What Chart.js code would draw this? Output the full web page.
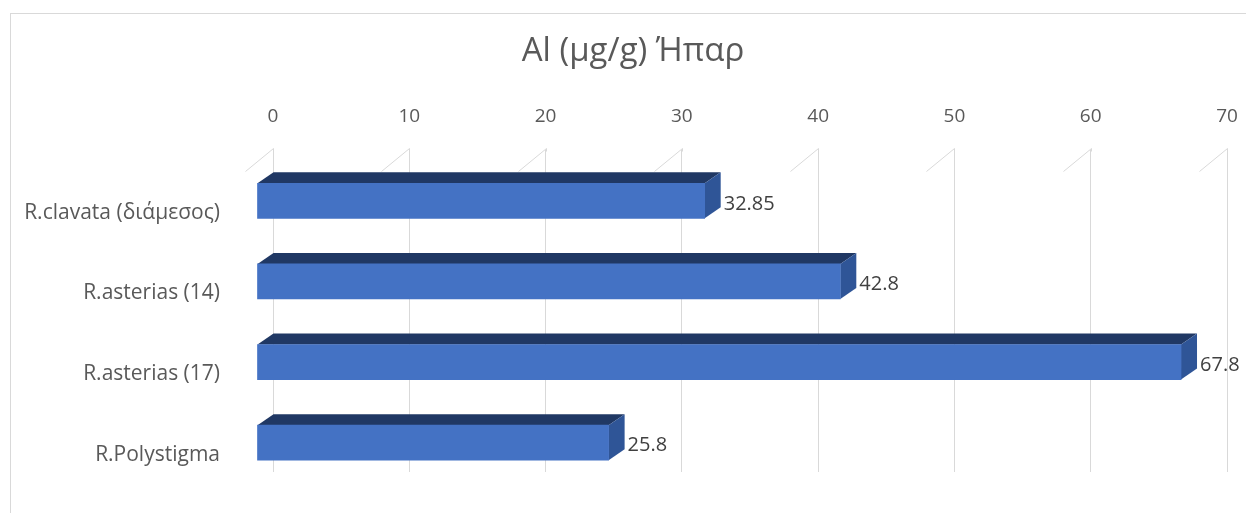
<!DOCTYPE html>
<html>
<head>
<meta charset="utf-8">
<script src="https://cdn.jsdelivr.net/npm/chart.js@4"></script>
<style>
  html, body { margin: 0; padding: 0; background: #fff; overflow: hidden; }
  #frame { position: absolute; left: 10px; top: 13px; width: 1244px; height: 510px; border: 1px solid #d9d9d9; background: #fff; }
  #chart { display: block; }
</style>
</head>
<body>
<div id="frame"><canvas id="chart" width="1244" height="510"></canvas></div>
<script>
// Aluminium concentration in liver, per species / sample
const categories = ['R.clavata (διάμεσος)', 'R.asterias (14)', 'R.asterias (17)', 'R.Polystigma'];
const values = [32.85, 42.8, 67.8, 25.8];
const valueLabels = ['32.85', '42.8', '67.8', '25.8'];
const axisMin = 0;
const axisMax = 70;
const axisStep = 10;
const chartTitle = 'Al (μg/g) Ήπαρ';

const FONT = '"Open Sans", Lato, sans-serif';
const FRONT = '#4472C4';
const TOP_FACE = '#203864';
const SIDE_FACE = '#2F5597';
const GRID = '#d9d9d9';
// depth of the extruded bars: the front face sits down-left of the back wall
const DX = -16, DY = 11;

const TITLE_SIZE = 33;
const TITLE_PAD = { top: 18, bottom: 6 };
const PLOT_TOP = 135.5;
const PLOT_RIGHT_GAP = 28;

const bars3d = {
  id: 'bars3d',
  beforeDatasetsDraw(chart) {
    const ctx = chart.ctx;
    const area = chart.chartArea;
    const xs = chart.scales.x;
    // slanted floor segments at the top of each gridline
    ctx.save();
    ctx.strokeStyle = GRID;
    ctx.lineWidth = 1;
    xs.ticks.forEach((t, i) => {
      const px = Math.round(xs.getPixelForTick(i)) + 0.5;
      ctx.beginPath();
      ctx.moveTo(px - 28, area.top + 22);
      ctx.lineTo(px, area.top - 1);
      ctx.lineTo(px, area.top + 2);
      ctx.stroke();
    });
    // top and side faces of each bar
    const meta = chart.getDatasetMeta(0);
    meta.data.forEach(bar => {
      const p = bar.getProps(['x', 'y', 'base', 'height'], true);
      const top = p.y - p.height / 2, bot = p.y + p.height / 2;
      ctx.fillStyle = TOP_FACE;
      ctx.beginPath();
      ctx.moveTo(p.base + DX, top + DY);
      ctx.lineTo(p.base, top);
      ctx.lineTo(p.x, top);
      ctx.lineTo(p.x + DX, top + DY);
      ctx.closePath();
      ctx.fill();
      ctx.fillStyle = SIDE_FACE;
      ctx.beginPath();
      ctx.moveTo(p.x + DX, top + DY);
      ctx.lineTo(p.x, top);
      ctx.lineTo(p.x, bot);
      ctx.lineTo(p.x + DX, bot + DY);
      ctx.closePath();
      ctx.fill();
    });
    ctx.restore();
    // front faces are drawn by the bar controller, shifted to the front
    ctx.save();
    ctx.translate(DX, DY);
  },
  afterDatasetsDraw(chart) {
    const ctx = chart.ctx;
    ctx.restore();
    const meta = chart.getDatasetMeta(0);
    ctx.save();
    ctx.font = '20px ' + FONT;
    ctx.fillStyle = '#404040';
    ctx.textAlign = 'left';
    ctx.textBaseline = 'middle';
    meta.data.forEach((bar, i) => {
      const p = bar.getProps(['x', 'y'], true);
      ctx.fillText(valueLabels[i], p.x + 3, p.y + 14);
    });
    ctx.restore();
  }
};

new Chart(document.getElementById('chart'), {
  type: 'bar',
  data: {
    labels: categories,
    datasets: [{
      data: values,
      backgroundColor: FRONT,
      borderWidth: 0,
      barThickness: 35,
      clip: false
    }]
  },
  options: {
    responsive: false,
    animation: false,
    indexAxis: 'y',
    layout: { padding: { left: 0, right: 0, top: 0, bottom: 52 } },
    plugins: {
      legend: { display: false },
      tooltip: { enabled: false },
      title: {
        display: true,
        text: chartTitle,
        color: '#595959',
        font: { family: FONT, size: TITLE_SIZE, weight: 'normal', lineHeight: 1.2 },
        padding: TITLE_PAD
      }
    },
    scales: {
      x: {
        position: 'top',
        min: axisMin,
        max: axisMax,
        ticks: {
          stepSize: axisStep,
          color: '#595959',
          font: { family: FONT, size: 19 },
          padding: 22
        },
        grid: { color: GRID, lineWidth: 1, drawTicks: false },
        border: { display: false },
        afterFit(scale) {
          scale.height = PLOT_TOP - (TITLE_PAD.top + TITLE_PAD.bottom + TITLE_SIZE * 1.2);
          scale.paddingLeft = 0;
          scale.paddingRight = PLOT_RIGHT_GAP;
        }
      },
      y: {
        ticks: {
          color: '#595959',
          font: { family: FONT, size: 21 },
          padding: 53,
          labelOffset: 23
        },
        grid: { display: false, drawTicks: false },
        border: { display: false },
        afterFit(scale) {
          scale.width = 262;
          // the label gap is horizontal only; keep it out of the vertical margins
          scale.paddingTop = 0;
          scale.paddingBottom = 0;
        }
      }
    }
  },
  plugins: [bars3d]
});
</script>
</body>
</html>
